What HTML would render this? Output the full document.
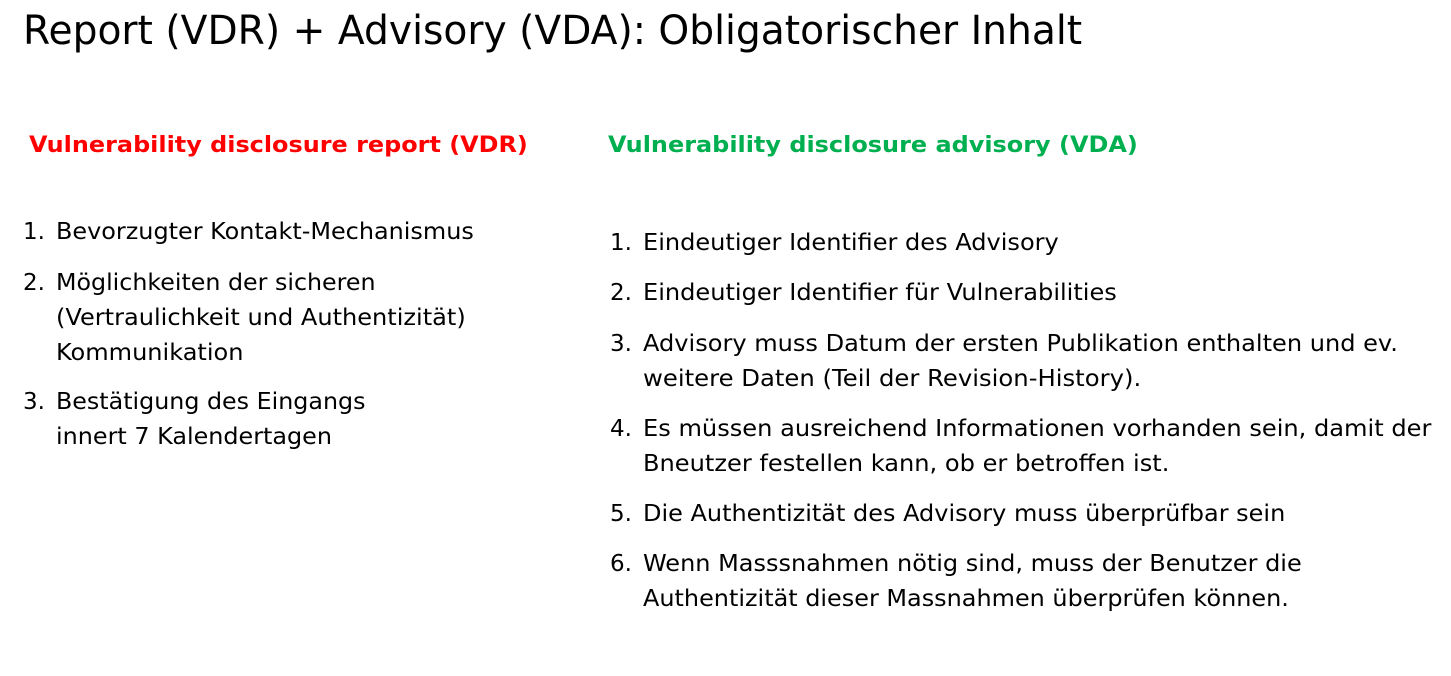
<!DOCTYPE html>
<html><head><meta charset="utf-8"><style>
body{margin:0;width:1451px;height:676px;background:#fff;position:relative;overflow:hidden;font-family:"DejaVu Sans","Liberation Sans",sans-serif;color:#000}
.l{position:absolute;white-space:nowrap;line-height:36px;height:36px;font-size:23px;transform-origin:0 50%}
.t{font-size:40px;line-height:50px;height:50px}
.h{font-weight:bold;font-size:22px}
</style></head><body>
<div class="l t" data-w="1059" style="left:23px;top:6px">Report (VDR) + Advisory (VDA): Obligatorischer Inhalt</div>
<div class="l h" data-w="499" style="left:29px;top:128px;color:#ff0000">Vulnerability disclosure report (VDR)</div>
<div class="l h" data-w="530" style="left:608px;top:128px;color:#00b050">Vulnerability disclosure advisory (VDA)</div>

<div>
<div class="l" style="left:23px;top:214px">1.</div>
<div class="l" data-w="418" style="left:56px;top:214px">Bevorzugter Kontakt-Mechanismus</div>
<div class="l" style="left:23px;top:265px">2.</div>
<div class="l" data-w="320" style="left:56px;top:265px">Möglichkeiten der sicheren</div>
<div class="l" data-w="410" style="left:56px;top:300px">(Vertraulichkeit und Authentizität)</div>
<div class="l" data-w="187" style="left:56px;top:335px">Kommunikation</div>
<div class="l" style="left:23px;top:384px">3.</div>
<div class="l" data-w="310" style="left:56px;top:384px">Bestätigung des Eingangs</div>
<div class="l" data-w="276" style="left:56px;top:419px">innert 7 Kalendertagen</div>
</div>

<div>
<div class="l" style="left:610px;top:225px">1.</div>
<div class="l" data-w="416" style="left:643px;top:225px">Eindeutiger Identifier des Advisory</div>
<div class="l" style="left:610px;top:275px">2.</div>
<div class="l" data-w="474" style="left:643px;top:275px">Eindeutiger Identifier für Vulnerabilities</div>
<div class="l" style="left:610px;top:326px">3.</div>
<div class="l" data-w="755" style="left:643px;top:326px">Advisory muss Datum der ersten Publikation enthalten und ev.</div>
<div class="l" data-w="498" style="left:643px;top:361px">weitere Daten (Teil der Revision-History).</div>
<div class="l" style="left:610px;top:411px">4.</div>
<div class="l" data-w="788" style="left:643px;top:411px">Es müssen ausreichend Informationen vorhanden sein, damit der</div>
<div class="l" data-w="526" style="left:643px;top:446px">Bneutzer festellen kann, ob er betroffen ist.</div>
<div class="l" style="left:610px;top:496px">5.</div>
<div class="l" data-w="642" style="left:643px;top:496px">Die Authentizität des Advisory muss überprüfbar sein</div>
<div class="l" style="left:610px;top:546px">6.</div>
<div class="l" data-w="659" style="left:643px;top:546px">Wenn Masssnahmen nötig sind, muss der Benutzer die</div>
<div class="l" data-w="646" style="left:643px;top:581px">Authentizität dieser Massnahmen überprüfen können.</div>
</div>
<script>
document.querySelectorAll('[data-w]').forEach(function(e){
  var w=parseFloat(e.getAttribute('data-w'));
  var r=e.scrollWidth||e.getBoundingClientRect().width;
  if(r>0)e.style.transform='scaleX('+(w/r)+')';
});
</script>
</body></html>
